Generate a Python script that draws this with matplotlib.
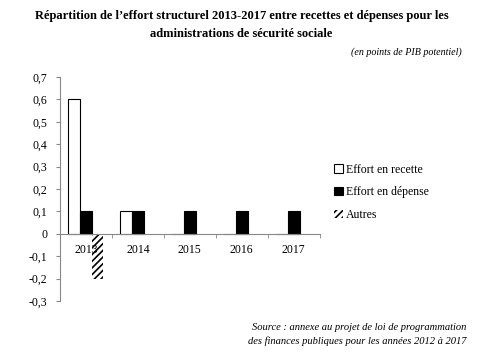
import numpy as np
import matplotlib
matplotlib.use('Agg')
import matplotlib.pyplot as plt

years = ['2013', '2014', '2015', '2016', '2017']
recette = [0.6, 0.1, 0, 0, 0]
depense = [0.1, 0.1, 0.1, 0.1, 0.1]
autres = [-0.2, 0, 0, 0, 0]
yticks = [-0.3, -0.2, -0.1, 0, 0.1, 0.2, 0.3, 0.4, 0.5, 0.6, 0.7]

plt.rcParams['font.family'] = ['Liberation Serif', 'DejaVu Serif']
plt.rcParams['hatch.linewidth'] = 1.2

fig = plt.figure(figsize=(4.83, 3.58), dpi=100)
ax = fig.add_axes([0.124, 0.159, 0.538, 0.626])

x = np.arange(len(years))
w = 0.225
ax.bar(x - w, recette, w, color='white', edgecolor='black', linewidth=0.8, label='Effort en recette')
ax.bar(x, depense, w, color='black', edgecolor='black', linewidth=0.8, label='Effort en dépense')
ax.bar(x + w, autres, w, color='white', edgecolor='black', linewidth=0.0, hatch='/////', label='Autres')

ax.set_xlim(-0.5, len(years) - 0.5)
ax.set_ylim(-0.3, 0.7)
ax.set_yticks(yticks)
ax.set_yticklabels([('%g' % v).replace('.', ',') for v in yticks], fontsize=8.5)

ax.spines['top'].set_visible(False)
ax.spines['right'].set_visible(False)
ax.spines['left'].set_color('#888888')
ax.spines['bottom'].set_position(('data', 0))
ax.spines['bottom'].set_color('#888888')
ax.tick_params(axis='y', length=3, color='#888888', pad=6)

ax.set_xticks(x)
ax.set_xticklabels(years, fontsize=8.5)
ax.tick_params(axis='x', length=0, pad=7)
ax.set_xticks(np.arange(len(years) + 1) - 0.5, minor=True)
ax.tick_params(axis='x', which='minor', length=3, color='#888888')

ax.legend(loc='center left', bbox_to_anchor=(1.015, 0.485), frameon=False, fontsize=8.5,
          handlelength=0.7, handleheight=0.7, handletextpad=0.3, labelspacing=0.9)

fig.text(0.5, 0.93, 'Répartition de l\u2019effort structurel 2013-2017 entre recettes et dépenses pour les\n'
         'administrations de sécurité sociale', ha='center', va='center', fontsize=9,
         fontweight='bold', linespacing=1.6)
fig.text(0.957, 0.855, '(en points de PIB potentiel)', ha='right', va='center', fontsize=7.2, style='italic')
fig.text(0.965, 0.066, 'Source : annexe au projet de loi de programmation\n'
         'des finances publiques pour les années 2012 à 2017', ha='right', va='center',
         fontsize=7.6, style='italic', linespacing=1.5)

fig.savefig('out.png', dpi=100)
